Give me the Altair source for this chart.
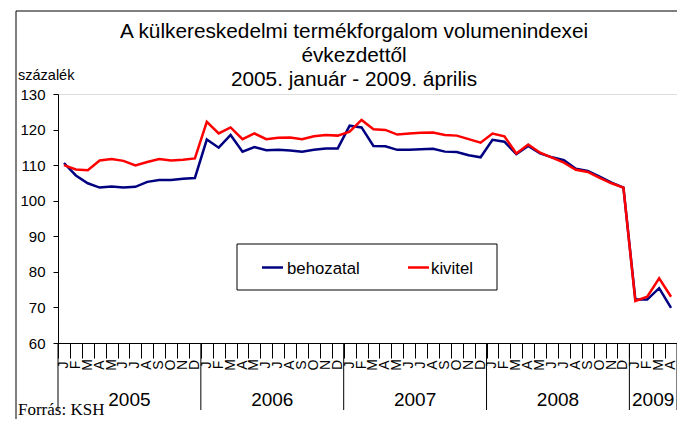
import altair as alt
import pandas as pd

months = ["J", "F", "M", "A", "M", "J", "J", "A", "S", "O", "N", "D"] * 4 + ["J", "F", "M", "A"]
years = ["2005", "2006", "2007", "2008", "2009"]
year_start = [0, 12, 24, 36, 48]
year_end = [12, 24, 36, 48, 52]

behozatal = [110.6, 107.1, 104.9, 103.7, 104.0, 103.7, 103.9, 105.3, 105.8, 105.8, 106.2, 106.4,
             117.2, 114.9, 118.5, 113.8, 115.1, 114.2, 114.3, 114.1, 113.8, 114.3, 114.7, 114.7,
             121.1, 120.6, 115.4, 115.3, 114.3, 114.3, 114.5, 114.6, 113.8, 113.7, 112.8, 112.2,
             117.1, 116.6, 113.1, 115.4, 113.3, 112.2, 111.4, 109.0, 108.4, 106.8, 105.1, 103.7,
             72.2, 72.2, 75.4, 69.9]
kivitel = [110.0, 108.8, 108.6, 111.3, 111.7, 111.2, 109.9, 110.9, 111.7, 111.3, 111.5, 111.9,
           122.2, 118.9, 120.6, 117.3, 118.9, 117.3, 117.7, 117.8, 117.3, 118.1, 118.5, 118.3,
           119.4, 122.7, 120.1, 119.9, 118.6, 118.9, 119.1, 119.2, 118.5, 118.3, 117.3, 116.3,
           118.9, 118.1, 113.3, 115.8, 113.5, 112.1, 110.7, 108.7, 108.1, 106.4, 104.9, 103.7,
           71.8, 73.0, 78.2, 73.0]

title_lines = ["A külkereskedelmi termékforgalom volumenindexei", "évkezdettől",
               "2005. január - 2009. április"]
series_names = ["behozatal", "kivitel"]
series_colors = ["#000080", "#FF0000"]

SANS = "Liberation Sans"
W, H = 619, 249

rows = []
for name, vals in zip(series_names, [behozatal, kivitel]):
    for i, v in enumerate(vals):
        rows.append({"t": i + 0.5, "v": v, "series": name})
df = pd.DataFrame(rows)

xaxis = alt.Axis(values=list(range(53)), tickSize=15, labels=False, title=None, grid=False,
                 domainColor="black", tickColor="black", domainWidth=1, tickWidth=1)
xscale = alt.Scale(domain=[0, 52], nice=False, zero=False)
xenc = alt.X("t:Q", scale=xscale, axis=xaxis)

lines = alt.Chart(df).mark_line(strokeWidth=2.5).encode(
    x=xenc,
    y=alt.Y("v:Q", scale=alt.Scale(domain=[60, 130], nice=False, zero=False),
            axis=alt.Axis(values=list(range(60, 131, 10)), tickSize=5, labelPadding=8,
                          labelFontSize=15, labelFont=SANS, labelColor="black", title=None,
                          grid=False, domainColor="black", tickColor="black")),
    color=alt.Color("series:N", scale=alt.Scale(domain=series_names, range=series_colors), legend=None),
    order="t:Q",
)

mdf = pd.DataFrame({"t": [i + 0.5 for i in range(len(months))], "m": months})
month_text = alt.Chart(mdf).mark_text(angle=270, fontSize=14, font=SANS, color="black",
                                      baseline="middle", align="center").encode(
    x=xenc, y=alt.value(H + 22), text="m:N")

bdf = pd.DataFrame({"t": [0] + year_end})
year_rules = alt.Chart(bdf).mark_rule(color="black", strokeWidth=1).encode(
    x=xenc, y=alt.value(H), y2=alt.value(H + 67))

ydf = pd.DataFrame({"t": [(a + b) / 2 for a, b in zip(year_start, year_end)], "y": years})
year_text = alt.Chart(ydf).mark_text(fontSize=19, font=SANS, color="black",
                                     baseline="alphabetic", align="center").encode(
    x=xenc, y=alt.value(H + 63), text="y:N")

one = pd.DataFrame({"a": [0]})

tdf = pd.DataFrame({"txt": title_lines, "yy": [-56, -32, -8]})
title = alt.Chart(tdf).mark_text(fontSize=20.8, font=SANS, color="black", align="center",
                                 baseline="alphabetic").encode(
    x=alt.value(296), y=alt.Y("yy:Q", scale=None), text="txt:N")

ylabel = alt.Chart(one).mark_text(text="százalék", fontSize=14.5, font=SANS, color="black",
                                  align="left", baseline="alphabetic").encode(
    x=alt.value(-40), y=alt.value(-14))

source = alt.Chart(one).mark_text(text="Forrás: KSH", fontSize=17, font="Liberation Serif",
                                  color="black", align="left", baseline="alphabetic").encode(
    x=alt.value(-40), y=alt.value(H + 72))

left_border = alt.Chart(one).mark_rule(color="black", strokeWidth=1).encode(
    x=alt.value(-42), y=alt.value(-83), y2=alt.value(H + 90))
top_border = alt.Chart(one).mark_rule(color="black", strokeWidth=1).encode(
    x=alt.value(-42), x2=alt.value(W + 20), y=alt.value(-83))

legend_box = alt.Chart(one).mark_rect(fill="white", stroke="black", strokeWidth=1).encode(
    x=alt.value(179), x2=alt.value(439), y=alt.value(150), y2=alt.value(196))
leg_b_line = alt.Chart(one).mark_rule(color=series_colors[0], strokeWidth=2.5).encode(
    x=alt.value(204), x2=alt.value(225), y=alt.value(173.5))
leg_k_line = alt.Chart(one).mark_rule(color=series_colors[1], strokeWidth=2.5).encode(
    x=alt.value(350), x2=alt.value(371), y=alt.value(173.5))
leg_b_text = alt.Chart(one).mark_text(text=series_names[0], fontSize=16.8, font=SANS, color="black",
                                      align="left", baseline="alphabetic").encode(
    x=alt.value(229), y=alt.value(180))
leg_k_text = alt.Chart(one).mark_text(text=series_names[1], fontSize=16.8, font=SANS, color="black",
                                      align="left", baseline="alphabetic").encode(
    x=alt.value(373), y=alt.value(180))

chart = alt.layer(
    lines, month_text, year_rules, year_text, title, ylabel, source, left_border, top_border,
    legend_box, leg_b_line, leg_k_line, leg_b_text, leg_k_text,
).properties(
    width=W, height=H,
    autosize=alt.AutoSizeParams(type="none"),
    padding={"left": 50, "top": 86, "right": 0, "bottom": 76},
).configure_view(stroke="black", strokeWidth=1).configure(background="white")

chart.save("out.html", embed_options={"renderer": "svg", "actions": False})
